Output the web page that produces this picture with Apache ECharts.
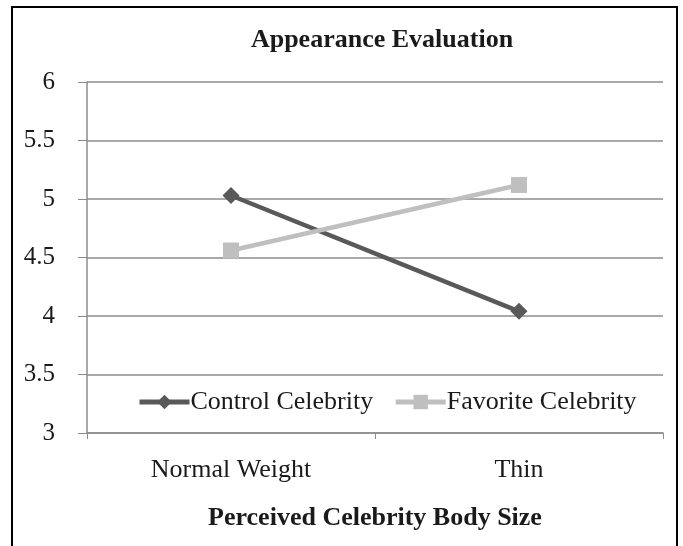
<!DOCTYPE html>
<html>
<head>
<meta charset="utf-8">
<script src="https://cdn.jsdelivr.net/npm/echarts@6/dist/echarts.min.js"></script>
<style>
  body { margin: 0; background: #fff; }
  #frame { position: absolute; left: 11px; top: 6px; width: 667px; height: 560px; border: 2px solid #000; box-sizing: border-box; }
  #main { position: absolute; left: 0; top: 0; width: 683px; height: 546px; }
</style>
</head>
<body>
<div id="frame"></div>
<div id="main"></div>
<script>
// 数据
const categories = ['Normal Weight', 'Thin'];
const controlCelebrity = [5.03, 4.04];
const favoriteCelebrity = [4.56, 5.12];
const yTicks = [3, 3.5, 4, 4.5, 5, 5.5, 6];

const myChart = echarts.init(document.getElementById('main'));
const font = 'Liberation Serif';

const option = {
  backgroundColor: 'transparent',
  animation: false,
  title: {
    text: 'Appearance Evaluation',
    left: 377,
    textAlign: 'center',
    top: 22,
    textStyle: { fontFamily: font, fontWeight: 'bold', fontSize: 26, color: '#1a1a1a' }
  },
  grid: { left: 87, right: 20, top: 82, bottom: 113 },
  legend: {
    data: ['Control Celebrity', 'Favorite Celebrity'],
    left: 132,
    top: 384,
    itemWidth: 50,
    itemHeight: 18,
    itemGap: 20,
    lineStyle: { width: 5 },
    textStyle: { fontFamily: font, fontSize: 26, color: '#1a1a1a', padding: [0, 0, 0, -4] }
  },
  xAxis: {
    type: 'category',
    data: categories,
    boundaryGap: true,
    name: 'Perceived Celebrity Body Size',
    nameLocation: 'middle',
    nameGap: 72,
    nameTextStyle: { fontFamily: font, fontWeight: 'bold', fontSize: 26, color: '#1a1a1a' },
    axisLine: { lineStyle: { color: '#8c8c8c', width: 1.5 } },
    axisTick: { show: true, length: 6, lineStyle: { color: '#8c8c8c' } },
    axisLabel: { fontFamily: font, fontSize: 26, color: '#1a1a1a', margin: 24 }
  },
  yAxis: {
    type: 'value',
    min: yTicks[0],
    max: yTicks[yTicks.length - 1],
    interval: 0.5,
    axisLine: { show: true, lineStyle: { color: '#8c8c8c', width: 1.5 } },
    axisTick: { show: true, length: 9, lineStyle: { color: '#8c8c8c' } },
    axisLabel: { fontFamily: font, fontSize: 25, color: '#1a1a1a', margin: 32 },
    splitLine: { lineStyle: { color: '#8c8c8c', width: 1.5 } }
  },
  series: [
    {
      name: 'Control Celebrity',
      type: 'line',
      data: controlCelebrity,
      symbol: 'diamond',
      symbolSize: 17,
      lineStyle: { color: '#595959', width: 4.5 },
      itemStyle: { color: '#595959' }
    },
    {
      name: 'Favorite Celebrity',
      type: 'line',
      data: favoriteCelebrity,
      symbol: 'rect',
      symbolSize: 16,
      lineStyle: { color: '#bfbfbf', width: 4.5 },
      itemStyle: { color: '#bfbfbf' }
    }
  ]
};

myChart.setOption(option);
</script>
</body>
</html>
